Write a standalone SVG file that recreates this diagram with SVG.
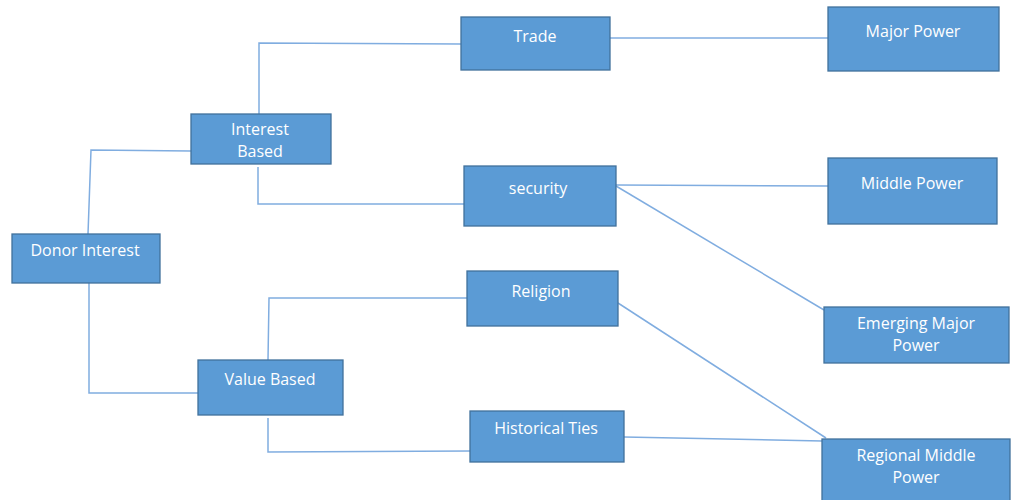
<svg xmlns="http://www.w3.org/2000/svg" width="1012" height="500" viewBox="0 0 1012 500">
<style>
.n rect{fill:#5b9bd5;stroke:#41719c;stroke-width:1.3}
.n text{fill:#fff;font-family:"Open Sans","Liberation Sans",sans-serif;font-size:16px;font-weight:500;text-anchor:middle}
.c path{fill:none;stroke:#80ade0;stroke-width:1.5}
</style>
<rect width="1012" height="500" fill="#fff"/>
<g class="c">
<path d="M88,234 L91,150 L191,151"/>
<path d="M89,283 L89,393 L198,393"/>
<path d="M259,114 L259,43 L461,44"/>
<path d="M258,167 L258,204 L464,204"/>
<path d="M268,360 L269,298 L467,298"/>
<path d="M268,418 L268,452 L470,451"/>
<path d="M610,38 L828,38"/>
<path d="M616,185 L828,186"/>
<path d="M616,186 L824,310"/>
<path d="M618,303 L826,438"/>
<path d="M624,437 L822,441"/>
</g>
<g id="donor" class="n"><rect x="12" y="234" width="148" height="49"/><text x="85" y="256">Donor Interest</text></g>
<g id="interest" class="n"><rect x="191" y="114" width="140" height="50"/><text x="260" y="135">Interest</text><text x="260" y="157">Based</text></g>
<g id="value" class="n"><rect x="198" y="360" width="145" height="55"/><text x="270" y="385">Value Based</text></g>
<g id="trade" class="n"><rect x="461" y="17" width="149" height="53"/><text x="535" y="42">Trade</text></g>
<g id="security" class="n"><rect x="464" y="166" width="152" height="60"/><text x="538" y="194">security</text></g>
<g id="religion" class="n"><rect x="467" y="271" width="151" height="55"/><text x="541" y="297">Religion</text></g>
<g id="historical" class="n"><rect x="470" y="411" width="154" height="51"/><text x="546" y="434">Historical Ties</text></g>
<g id="major" class="n"><rect x="828" y="7" width="171" height="64"/><text x="913" y="37">Major Power</text></g>
<g id="middle" class="n"><rect x="828" y="158" width="169" height="66"/><text x="912" y="189">Middle Power</text></g>
<g id="emerging" class="n"><rect x="824" y="307" width="185" height="56"/><text x="916" y="329">Emerging Major</text><text x="916" y="351">Power</text></g>
<g id="regional" class="n"><rect x="822" y="439" width="188" height="63"/><text x="916" y="461">Regional Middle</text><text x="916" y="483">Power</text></g>
</svg>
